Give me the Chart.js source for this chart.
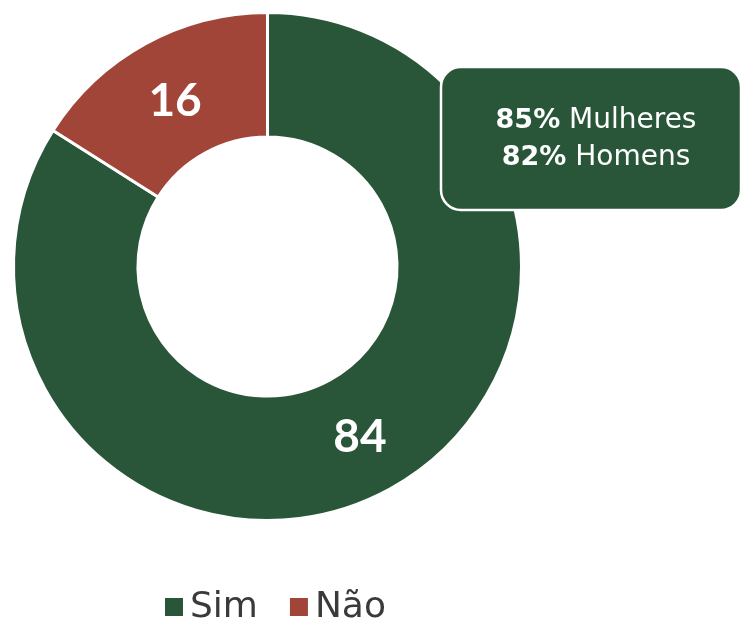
<!DOCTYPE html>
<html>
<head>
<meta charset="utf-8">
<script src="https://cdn.jsdelivr.net/npm/chart.js@4/dist/chart.umd.min.js"></script>
<style>
  html, body { margin: 0; padding: 0; background: #fff; }
  #wrap { width: 740px; height: 623px; }
</style>
</head>
<body>
<div id="wrap"><canvas id="chart"></canvas></div>
<script>
var labels = ['Sim', 'Não'];
var values = [84, 16];
var colors = ['#295639', '#a04538'];
var calloutLines = [['85%', ' Mulheres'], ['82%', ' Homens']];

var NUM_FONT = 'Lato, "Open Sans", sans-serif';
var TXT_FONT = '"DejaVu Sans", sans-serif';

// number in the middle of each slice
var sliceLabels = {
    id: 'sliceLabels',
    afterDatasetsDraw: (chart) => {
        var ctx = chart.ctx;
        var meta = chart.getDatasetMeta(0);
        ctx.save();
        ctx.fillStyle = '#fff';
        ctx.font = 'bold 46px ' + NUM_FONT;
        ctx.textAlign = 'center';
        ctx.textBaseline = 'middle';
        meta.data.forEach((arc, i) => {
            var p = arc.getCenterPoint();
            ctx.fillText(String(values[i]), p.x, p.y + 3);
        });
        ctx.restore();
    }
};

// rounded box with the breakdown by sex
var callout = {
    id: 'callout',
    afterDatasetsDraw: (chart) => {
        var ctx = chart.ctx;
        var x = 441, y = 67, w = 300, h = 143, r = 20;
        ctx.save();
        ctx.beginPath();
        ctx.roundRect(x, y, w, h, r);
        ctx.fillStyle = colors[0];
        ctx.fill();
        ctx.lineWidth = 2.5;
        ctx.strokeStyle = '#fff';
        ctx.stroke();

        ctx.fillStyle = '#fff';
        ctx.textBaseline = 'middle';
        ctx.textAlign = 'left';
        var cx = 596;
        calloutLines.forEach((parts, i) => {
            var ly = 121 + i * 37;
            ctx.font = 'bold 27px ' + TXT_FONT;
            var w1 = ctx.measureText(parts[0]).width;
            ctx.font = '28px ' + TXT_FONT;
            var w2 = ctx.measureText(parts[1]).width;
            var sx = cx - (w1 + w2) / 2;
            ctx.font = 'bold 27px ' + TXT_FONT;
            ctx.fillText(parts[0], sx, ly);
            ctx.font = '28px ' + TXT_FONT;
            ctx.fillText(parts[1], sx + w1, ly);
        });
        ctx.restore();
    }
};

// legend row under the ring
var bottomLegend = {
    id: 'bottomLegend',
    afterDraw: (chart) => {
        var ctx = chart.ctx;
        ctx.save();
        ctx.font = '36px ' + TXT_FONT;
        ctx.textBaseline = 'middle';
        ctx.textAlign = 'left';
        var x = 165, y = 607;
        labels.forEach((lab, i) => {
            ctx.fillStyle = colors[i];
            ctx.fillRect(x, y - 9, 18, 18);
            ctx.fillStyle = '#3a3a3a';
            ctx.fillText(lab, x + 25, y + 1);
            x += 25 + ctx.measureText(lab).width + 32;
        });
        ctx.restore();
    }
};

new Chart(document.getElementById('chart').getContext('2d'), {
    type: 'doughnut',
    data: {
        labels: labels,
        datasets: [{
            data: values,
            backgroundColor: colors,
            borderColor: '#fff',
            borderWidth: 3
        }]
    },
    options: {
        responsive: true,
        maintainAspectRatio: false,
        animation: false,
        cutout: '51%',
        layout: { padding: { left: 12, top: 11, right: 217, bottom: 101 } },
        plugins: {
            legend: { display: false },
            tooltip: { enabled: false }
        },
        events: []
    },
    plugins: [callout, sliceLabels, bottomLegend]
});
</script>
</body>
</html>
